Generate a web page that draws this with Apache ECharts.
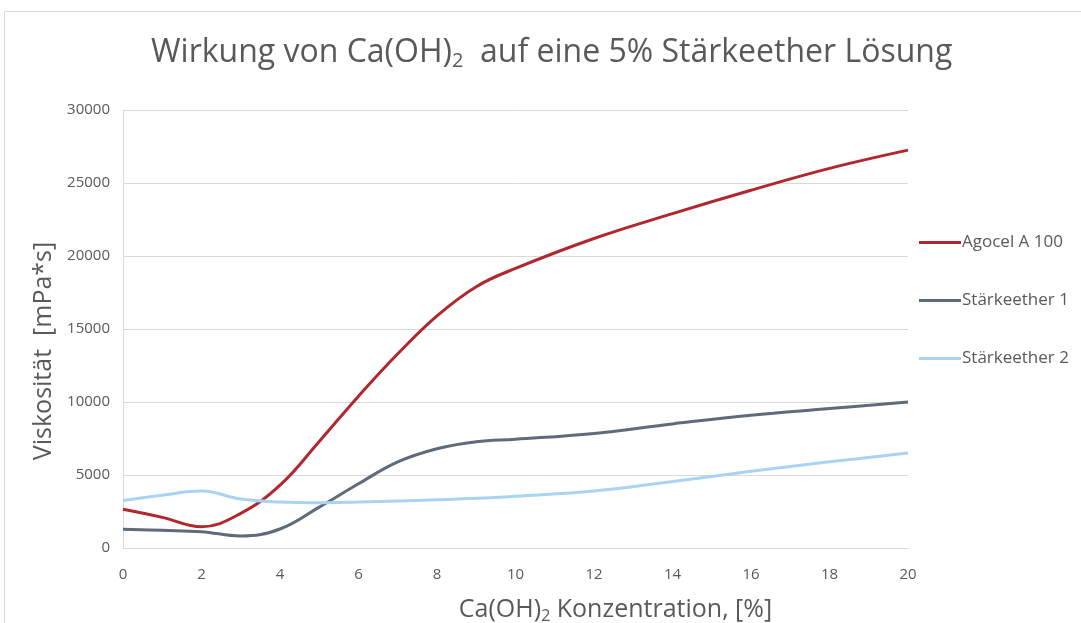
<!DOCTYPE html>
<html lang="de">
<head>
    <meta charset="UTF-8">
    <title>Wirkung von Ca(OH)2</title>
    <script src="https://cdn.jsdelivr.net/npm/echarts@6/dist/echarts.min.js"></script>
    <style>
        html, body { margin: 0; padding: 0; background: #fff; }
        #chart { width: 1081px; height: 623px; }
    </style>
</head>
<body>
<div id="chart"></div>
<script>
    // Konzentration Ca(OH)2 in %
    const konzentration = [0, 1, 2, 3, 4, 5, 6, 7, 8, 9, 10, 12, 14, 16, 18, 20];
    // Viskosität in mPa*s
    const agocel = [2650, 2100, 1460, 2370, 4300, 7300, 10400, 13300, 15900, 17900, 19150, 21200, 22900, 24500, 26000, 27250];
    const staerke1 = [1280, 1210, 1120, 820, 1300, 2800, 4400, 5900, 6800, 7280, 7450, 7850, 8500, 9100, 9550, 10000];
    const staerke2 = [3250, 3620, 3900, 3350, 3150, 3100, 3150, 3220, 3300, 3400, 3550, 3900, 4550, 5250, 5900, 6500];
    const seriesNames = ['Agocel A 100', 'Stärkeether 1', 'Stärkeether 2'];
    const seriesColors = ['#b0282e', '#5f6b7a', '#a9d3f0'];

    const font = '"Open Sans", sans-serif';
    const grey = '#595959';

    const pairs = (ys) => konzentration.map((x, i) => [x, ys[i]]);

    const chart = echarts.init(document.getElementById('chart'));
    chart.setOption({
        animation: false,
        textStyle: {fontFamily: font, color: grey},
        graphic: [{
            type: 'rect',
            shape: {x: 4.5, y: 11.5, width: 1200, height: 800},
            style: {fill: 'none', stroke: '#d9d9d9', lineWidth: 1}
        }],
        title: {
            text: 'Wirkung von Ca(OH){sub|2}  auf eine 5% Stärkeether Lösung',
            left: 146,
            top: 30,
            textStyle: {
                fontFamily: font, fontSize: 32, fontWeight: 'normal', color: grey,
                rich: {sub: {fontFamily: font, fontSize: 20, color: grey, padding: [16, 0, 0, 0]}}
            }
        },
        grid: {left: 123, right: 173, top: 110, bottom: 75, outerBoundsMode: 'none'},
        legend: {
            orient: 'vertical',
            left: 914,
            top: 229,
            itemGap: 41,
            itemWidth: 42,
            itemHeight: 3,
            icon: 'rect',
            textStyle: {fontFamily: font, fontSize: 17, color: grey, padding: [0, 0, 0, -4]},
            data: seriesNames
        },
        xAxis: {
            type: 'value',
            min: 0, max: 20, interval: 2,
            name: 'Ca(OH){sub|2} Konzentration, [%]',
            nameLocation: 'middle',
            nameGap: 47,
            nameTextStyle: {
                fontFamily: font, fontSize: 25, color: grey,
                padding: [0, 0, 0, 200],
                rich: {sub: {fontFamily: font, fontSize: 16, color: grey, padding: [13, 0, 0, 0]}}
            },
            axisLine: {lineStyle: {color: '#d9d9d9'}},
            axisTick: {show: false},
            splitLine: {show: false},
            axisLabel: {fontFamily: font, fontSize: 15, color: grey, margin: 19}
        },
        yAxis: {
            type: 'value',
            min: 0, max: 30000, interval: 5000,
            name: 'Viskosität  [mPa*s]',
            nameLocation: 'middle',
            nameGap: 64,
            nameTextStyle: {fontFamily: font, fontSize: 25, color: grey, padding: [0, 44, 0, 0]},
            axisLine: {show: true, lineStyle: {color: '#d9d9d9'}},
            axisTick: {show: false},
            splitLine: {lineStyle: {color: '#d9d9d9'}},
            axisLabel: {
                fontFamily: font, fontSize: 15, color: grey, margin: 13,
                formatter: (v) => String(v)
            }
        },
        series: [agocel, staerke1, staerke2].map((ys, i) => ({
            name: seriesNames[i],
            type: 'line',
            smooth: 0.4,
            showSymbol: false,
            symbol: 'none',
            lineStyle: {width: 3, color: seriesColors[i]},
            itemStyle: {color: seriesColors[i]},
            data: pairs(ys)
        }))
    });
</script>
</body>
</html>
